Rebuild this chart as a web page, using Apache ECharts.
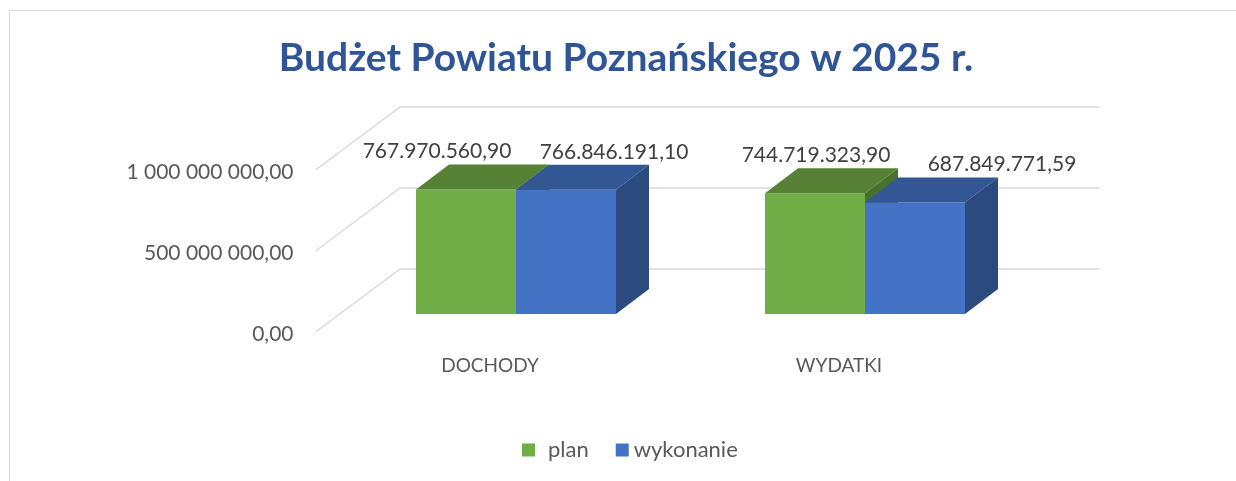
<!DOCTYPE html>
<html>
<head>
<meta charset="utf-8">
<script src="https://cdn.jsdelivr.net/npm/echarts@6/dist/echarts.min.js"></script>
<style>
  html, body { margin: 0; padding: 0; background: #fff; }
  #chart { width: 1236px; height: 481px; }
</style>
</head>
<body>
<div id="chart"></div>
<script>
const categories = ['DOCHODY', 'WYDATKI'];
const planValues = [767970560.90, 744719323.90];
const wykonanieValues = [766846191.10, 687849771.59];
const yTicks = [0, 500000000, 1000000000];

// 3D look
const BAR_W = 100;
const DEPTH_X = 33;
const DEPTH_Y = -25;
const FONT = 'Lato, "Open Sans", sans-serif';

function fmtNumber(v, sep) {
  const parts = v.toFixed(2).split('.');
  return parts[0].replace(/\B(?=(\d{3})+(?!\d))/g, sep) + ',' + parts[1];
}

function barRenderer(side, colors, labelShift) {
  return function (params, api) {
    const cat = api.value(0);
    const val = api.value(1);
    const top = api.coord([cat, val]);
    const base = api.coord([cat, 0]);
    const x0 = side === 0 ? top[0] - BAR_W : top[0];
    const x1 = x0 + BAR_W;
    const yT = top[1];
    const yB = base[1];
    return {
      type: 'group',
      children: [
        {
          type: 'rect',
          shape: { x: x0, y: yT, width: BAR_W, height: yB - yT },
          style: { fill: colors.front }
        },
        {
          type: 'polygon',
          shape: { points: [[x0, yT], [x0 + DEPTH_X, yT + DEPTH_Y], [x1 + DEPTH_X, yT + DEPTH_Y], [x1, yT]] },
          style: { fill: colors.top }
        },
        {
          type: 'polygon',
          shape: { points: [[x1, yT], [x1 + DEPTH_X, yT + DEPTH_Y], [x1 + DEPTH_X, yB + DEPTH_Y], [x1, yB]] },
          style: { fill: colors.side }
        },
        {
          type: 'text',
          x: (x0 + x1) / 2 + labelShift[params.dataIndex],
          y: yT - 38,
          style: {
            text: fmtNumber(val, '.'),
            fontSize: 21,
            fontFamily: FONT,
            fill: '#404040',
            align: 'center',
            verticalAlign: 'middle'
          }
        }
      ]
    };
  };
}

function gridRenderer(params, api) {
  const cs = params.coordSys;
  const y = api.coord([0, api.value(1)])[1];
  return {
    type: 'polyline',
    shape: {
      points: [
        [cs.x - 26, y + 18],
        [cs.x + 58.5, y - 45],
        [cs.x + cs.width + 60, y - 45]
      ]
    },
    style: { stroke: '#D9D9D9', lineWidth: 1.5, fill: null }
  };
}

const chart = echarts.init(document.getElementById('chart'));

const option = {
  backgroundColor: '#fff',
  animation: false,
  title: {
    text: 'Budżet Powiatu Poznańskiego w 2025 r.',
    left: 621,
    top: 34,
    textAlign: 'center',
    textStyle: {
      fontFamily: FONT,
      fontWeight: 'bold',
      fontSize: 39,
      color: '#2F5597'
    }
  },
  graphic: [
    {
      type: 'rect',
      silent: true,
      shape: { x: 9.5, y: 10.5, width: 1400, height: 600 },
      style: { fill: 'none', stroke: '#D9D9D9', lineWidth: 1 }
    }
  ],
  legend: {
    data: [
      { name: 'plan', textStyle: { padding: [0, 0, 0, 8] } },
      { name: 'wykonanie' }
    ],
    left: 517,
    top: 434,
    icon: 'rect',
    itemWidth: 13,
    itemHeight: 13,
    itemGap: 27,
    textStyle: { fontFamily: FONT, fontSize: 22, color: '#595959' }
  },
  grid: {
    left: 341.5,
    right: 196.5,
    top: 152,
    bottom: 167
  },
  xAxis: {
    type: 'category',
    data: categories,
    axisLine: { show: false },
    axisTick: { show: false },
    axisLabel: {
      margin: 42,
      padding: [0, 52, 0, 0],
      fontFamily: FONT,
      fontSize: 19,
      color: '#595959'
    }
  },
  yAxis: {
    type: 'value',
    min: 0,
    max: 1000000000,
    interval: 500000000,
    axisLine: { show: false },
    axisTick: { show: false },
    splitLine: { show: false },
    axisLabel: {
      margin: 48,
      verticalAlign: 'top',
      lineHeight: 40,
      fontFamily: FONT,
      fontSize: 21,
      color: '#595959',
      formatter: v => fmtNumber(v, ' ')
    }
  },
  series: [
    {
      name: 'grid',
      type: 'custom',
      silent: true,
      z: 1,
      renderItem: gridRenderer,
      data: yTicks.map(v => [0, v])
    },
    {
      name: 'plan',
      type: 'custom',
      z: 2,
      itemStyle: { color: '#70AD47' },
      renderItem: barRenderer(0, { front: '#70AD47', top: '#578236', side: '#48702E' }, [-29, 1]),
      data: planValues.map((v, i) => [i, v])
    },
    {
      name: 'wykonanie',
      type: 'custom',
      z: 3,
      itemStyle: { color: '#4472C4' },
      renderItem: barRenderer(1, { front: '#4472C4', top: '#335695', side: '#2B4A7E' }, [48, 87]),
      data: wykonanieValues.map((v, i) => [i, v])
    }
  ]
};

chart.setOption(option);
window.addEventListener('resize', () => chart.resize());
</script>
</body>
</html>
